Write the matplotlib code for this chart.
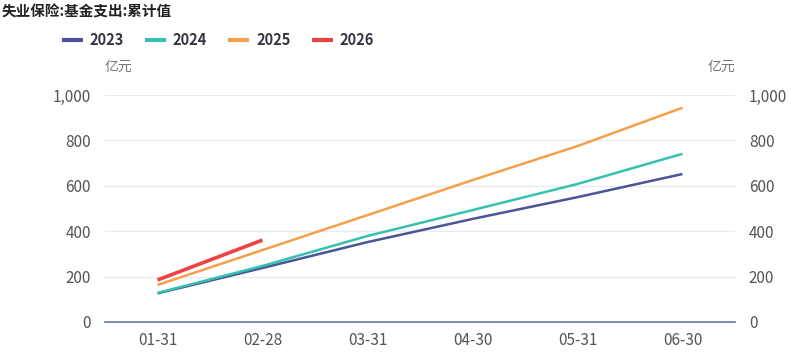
import matplotlib
matplotlib.use("Agg")
import matplotlib.pyplot as plt
from matplotlib.ticker import FuncFormatter, FixedLocator

plt.rcParams['font.family'] = ['Noto Sans CJK SC', 'DejaVu Sans']

categories = ["01-31", "02-28", "03-31", "04-30", "05-31", "06-30"]
s2023 = [126, 238, 352, 454, 550, 652]
s2024 = [128, 247, 379, 493, 608, 741]
s2025 = [163, 317, 471, 625, 775, 944]
s2026 = [185, 361]
series = [("2023", s2023, "#4A5496", 1.8),
          ("2024", s2024, "#35C0B0", 1.8),
          ("2025", s2025, "#F5A04B", 1.8),
          ("2026", s2026, "#EE4242", 2.6)]
yticks = [0, 200, 400, 600, 800, 1000]

W, H = 799, 359
fig = plt.figure(figsize=(W/100, H/100), dpi=100)
ax = fig.add_axes([105/W, 37/H, (735-105)/W, (322-95)/H])

x = list(range(len(categories)))
for name, vals, col, lw in series:
    ax.plot(x[:len(vals)], vals, color=col, lw=lw, label=name, solid_capstyle='butt')

ax.set_xlim(-0.5, len(categories)-0.5)
ax.set_ylim(0, 1000)
ax.set_xticks(x)
ax.set_xticklabels(categories)
ax.yaxis.set_major_locator(FixedLocator(yticks))
ax.yaxis.set_major_formatter(FuncFormatter(lambda v, p: f"{int(v):,}"))
ax.grid(axis='y', color='#E9EBF2', lw=1)
ax.set_axisbelow(True)
for s in ['top', 'right', 'left']:
    ax.spines[s].set_visible(False)
ax.spines['bottom'].set_color('#6B77AE')
ax.spines['bottom'].set_linewidth(1.2)
ax.tick_params(axis='x', length=0, pad=7, labelsize=11, labelcolor='#555555')
ax.tick_params(axis='y', length=0, pad=10, labelsize=11, labelcolor='#555555',
               labelright=True, left=False, right=False)

fig.text(2/W, 1-12/H, "失业保险:基金支出:累计值", fontsize=10.5, fontweight='bold',
         color='#222222', va='center', ha='left')
fig.text(105/W, 1-67/H, "亿元", fontsize=10, color='#777777', va='center', ha='left')
fig.text(735/W, 1-67/H, "亿元", fontsize=10, color='#777777', va='center', ha='right')

leg = fig.legend(loc='center left', bbox_to_anchor=(62/W, 1-40/H), ncol=4, frameon=False,
                 borderpad=0, borderaxespad=0,
                 handlelength=1.45, columnspacing=1.45, handletextpad=0.45,
                 prop={'weight': 'bold', 'size': 10.5})
for t in leg.get_texts():
    t.set_color('#333344')
for l in leg.get_lines():
    l.set_linewidth(3)

fig.savefig("out.png", dpi=100)
